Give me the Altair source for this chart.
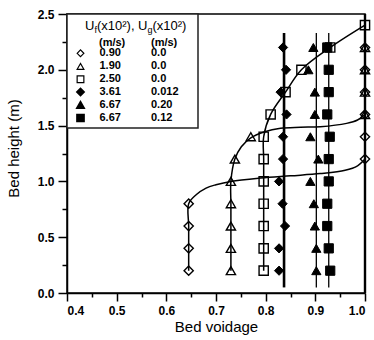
import altair as alt
import pandas as pd

# ---------------- measured voidage profiles ----------------
h_col = [0.2, 0.4, 0.6, 0.8, 1.0, 1.2, 1.4, 1.6, 1.8, 2.0, 2.2]
h_sq = [0.2, 0.4, 0.6, 0.8, 1.0, 1.2, 1.4, 1.6, 1.8, 2.0, 2.2, 2.4]

# open diamonds: Uf = 0.90, Ug = 0.0
od_x = [0.645, 0.645, 0.645, 0.645, 1.0, 1.0, 1.0, 1.0, 1.0, 1.0]
od_h = [0.2, 0.4, 0.6, 0.8, 1.2, 1.4, 1.6, 1.8, 2.0, 2.2]
# open triangles: Uf = 1.90, Ug = 0.0
ot_x = [0.73, 0.73, 0.73, 0.73, 0.73, 0.738, 0.770, 1.0, 1.0, 1.0, 1.0]
ot_h = h_col
# open squares: Uf = 2.50, Ug = 0.0
os_x = [0.796, 0.796, 0.796, 0.796, 0.796, 0.796, 0.796, 0.81, 0.84, 0.872, 0.93, 1.0]
os_h = h_sq
# filled diamonds: Uf = 3.61, Ug = 0.012
fd_x = [0.827, 0.827, 0.839, 0.834, 0.827, 0.835, 0.835, 0.842, 0.830, 0.841, 0.835]
# filled triangles: Uf = 6.67, Ug = 0.20
ft_x = [0.902, 0.902, 0.899, 0.897, 0.890, 0.906, 0.890, 0.899, 0.899, 0.886, 0.896]
# filled squares: Uf = 6.67, Ug = 0.12
fs_x = [0.930, 0.927, 0.924, 0.924, 0.927, 0.927, 0.929, 0.924, 0.927, 0.927, 0.924]

# fitted profile curves
od_fit_x = [0.645, 0.645, 0.645, 0.645, 0.66, 0.68, 0.70, 0.73, 0.79, 0.85, 0.91, 0.96, 0.985, 1.0]
od_fit_h = [0.2, 0.4, 0.6, 0.8, 0.88, 0.94, 0.97, 1.0, 1.03, 1.05, 1.07, 1.10, 1.14, 1.2]
ot_fit_x = [0.73, 0.73, 0.73, 0.73, 0.73, 0.738, 0.751, 0.770, 0.798, 0.83, 0.87, 0.91, 0.963, 0.985, 1.0]
ot_fit_h = [0.2, 0.4, 0.6, 0.8, 1.0, 1.2, 1.31, 1.39, 1.445, 1.476, 1.485, 1.49, 1.52, 1.55, 1.6]
os_fit_x = os_x
os_fit_h = os_h

# mean voidage lines of the fluidised beds
mean_x = [0.837, 0.902, 0.927, 1.0]
mean_lo = [0.05, 0.05, 0.05, 0.0]
mean_hi = [2.33, 2.33, 2.33, 2.5]
mean_w = [2.6, 1.3, 1.3, 2.4]

# legend table
leg_uf = ["0.90", "1.90", "2.50", "3.61", "6.67", "6.67"]
leg_ug = ["0.0", "0.0", "0.0", "0.012", "0.20", "0.12"]
leg_shape = ["diamond", "triangle-up", "square", "diamond", "triangle-up", "square"]
leg_filled = [False, False, False, True, True, True]

x_ticks = [round(0.4 + 0.05 * i, 2) for i in range(13)]
y_ticks = [round(0.25 * i, 2) for i in range(11)]

FONT = "Liberation Sans"
xs = alt.Scale(domain=[0.4, 1.0], nice=False, zero=False)
ys = alt.Scale(domain=[0.0, 2.5], nice=False, zero=False)

x_axis = alt.Axis(
    values=x_ticks, title="Bed voidage", grid=False,
    labelExpr="abs(round(datum.value*10) - datum.value*10) < 0.01 ? format(datum.value, '.1f') : ''",
    tickSize={"condition": {"test": "abs(round(datum.value*10) - datum.value*10) < 0.01", "value": 8}, "value": 4},
    labelPadding=4, labelFontSize=12, labelFontWeight="bold",
    titleFontSize=15, titleFontWeight="normal",
    titleX=149, titleY=38, titleBaseline="alphabetic",
    labelFont=FONT, titleFont=FONT, labelColor="black", titleColor="black",
    tickColor="black", domainColor="black", tickWidth=1.5, domainWidth=1.5,
)
y_axis = alt.Axis(
    values=y_ticks, title="Bed height (m)", grid=False,
    labelExpr="abs(round(datum.value*2) - datum.value*2) < 0.01 ? format(datum.value, '.1f') : ''",
    tickSize={"condition": {"test": "abs(round(datum.value*2) - datum.value*2) < 0.01", "value": 9}, "value": 5},
    labelPadding=4, labelFontSize=12, labelFontWeight="bold",
    titleFontSize=15, titleFontWeight="normal",
    titleX=-49, titleY=134, titleAngle=-90, titleAlign="center", titleBaseline="alphabetic",
    labelFont=FONT, titleFont=FONT, labelColor="black", titleColor="black",
    tickColor="black", domainColor="black", tickWidth=1.5, domainWidth=1.5,
)


def X(field):
    return alt.X(field, scale=xs, axis=x_axis)


def Y(field):
    return alt.Y(field, scale=ys, axis=y_axis)


layers = []
anchor_df = pd.DataFrame({"x": [0.4], "h": [0.0]})

# mean voidage lines
rules_df = pd.DataFrame({"x": mean_x, "lo": mean_lo, "hi": mean_hi})
for i in range(len(mean_x)):
    layers.append(
        alt.Chart(rules_df.iloc[[i]]).mark_rule(color="black", strokeWidth=mean_w[i]).encode(
            x=X("x:Q"), y=Y("lo:Q"), y2="hi:Q",
        )
    )

# fitted curves
for fx, fh in [(od_fit_x, od_fit_h), (ot_fit_x, ot_fit_h), (os_fit_x, os_fit_h)]:
    df = pd.DataFrame({"x": fx, "h": fh, "o": list(range(len(fx)))})
    layers.append(
        alt.Chart(df).mark_line(color="black", strokeWidth=1.5, interpolate="catmull-rom").encode(
            x=X("x:Q"), y=Y("h:Q"), order="o:Q",
        )
    )

# measured points
series = [
    (od_x, od_h, "diamond", False),
    (ot_x, ot_h, "triangle-up", False),
    (os_x, os_h, "square", False),
    (fd_x, h_col, "diamond", True),
    (ft_x, h_col, "triangle-up", True),
    (fs_x, h_col, "square", True),
]
for sx, sh, shape, filled in series:
    df = pd.DataFrame({"x": sx, "h": sh})
    if filled:
        mk = alt.Chart(df).mark_point(shape=shape, filled=True, fill="black", stroke="black",
                                      strokeWidth=1, size=85, opacity=1)
    else:
        mk = alt.Chart(df).mark_point(shape=shape, filled=False, stroke="black",
                                      strokeWidth=1.4, size=85, opacity=1)
    layers.append(mk.encode(x=X("x:Q"), y=Y("h:Q")))

# ---------------- legend box ----------------
def px(v):
    return v - 67


def py(v):
    return v - 14


layers.append(
    alt.Chart(anchor_df).mark_rect(fill="white", stroke="#222", strokeWidth=1.5).encode(
        x=alt.value(px(67)), x2=alt.value(px(198)), y=alt.value(py(14)), y2=alt.value(py(128))
    )
)

title_parts = [
    ("U", 85, 29.5, 13),
    ("f", 94.4, 32.5, 9),
    ("(x10²),", 97, 29.5, 13),
    ("U", 138, 29.5, 13),
    ("g", 147.4, 32.5, 9),
    ("(x10²)", 152.4, 29.5, 13),
]
for txt, tx, ty, fsz in title_parts:
    layers.append(
        alt.Chart(anchor_df).mark_text(text=txt, align="left", baseline="alphabetic",
                                       font=FONT, fontSize=fsz, color="black").encode(
            x=alt.value(px(tx)), y=alt.value(py(ty))
        )
    )

for txt, tx in [("(m/s)", 99), ("(m/s)", 151)]:
    layers.append(
        alt.Chart(anchor_df).mark_text(text=txt, align="left", baseline="middle",
                                       font=FONT, fontSize=11, fontWeight="bold", color="black").encode(
            x=alt.value(px(tx)), y=alt.value(py(42.7))
        )
    )

row_y = [53.3, 66.4, 79.3, 92.0, 105.0, 118.0]
for i in range(len(leg_uf)):
    if leg_filled[i]:
        sym = alt.Chart(anchor_df).mark_point(shape=leg_shape[i], filled=True, fill="black",
                                              stroke="black", size=45, opacity=1)
    else:
        sym = alt.Chart(anchor_df).mark_point(shape=leg_shape[i], filled=False, stroke="black",
                                              strokeWidth=1.2, size=45, opacity=1)
    layers.append(sym.encode(x=alt.value(px(80.5)), y=alt.value(py(row_y[i]))))
    layers.append(
        alt.Chart(anchor_df).mark_text(text=leg_uf[i], align="left", baseline="middle",
                                       font=FONT, fontSize=11, fontWeight="bold", color="black").encode(
            x=alt.value(px(99.5)), y=alt.value(py(row_y[i]))
        )
    )
    layers.append(
        alt.Chart(anchor_df).mark_text(text=leg_ug[i], align="left", baseline="middle",
                                       font=FONT, fontSize=11, fontWeight="bold", color="black").encode(
            x=alt.value(px(151)), y=alt.value(py(row_y[i]))
        )
    )

chart = alt.layer(*layers).properties(
    width=298,
    height=279,
    autosize=alt.AutoSizeParams(type="none"),
    padding={"left": 67, "top": 14, "right": 9, "bottom": 47},
    background="white",
).configure_view(stroke="black", strokeWidth=1.5)

chart.save("out.html", embed_options={"renderer": "svg", "actions": False})
